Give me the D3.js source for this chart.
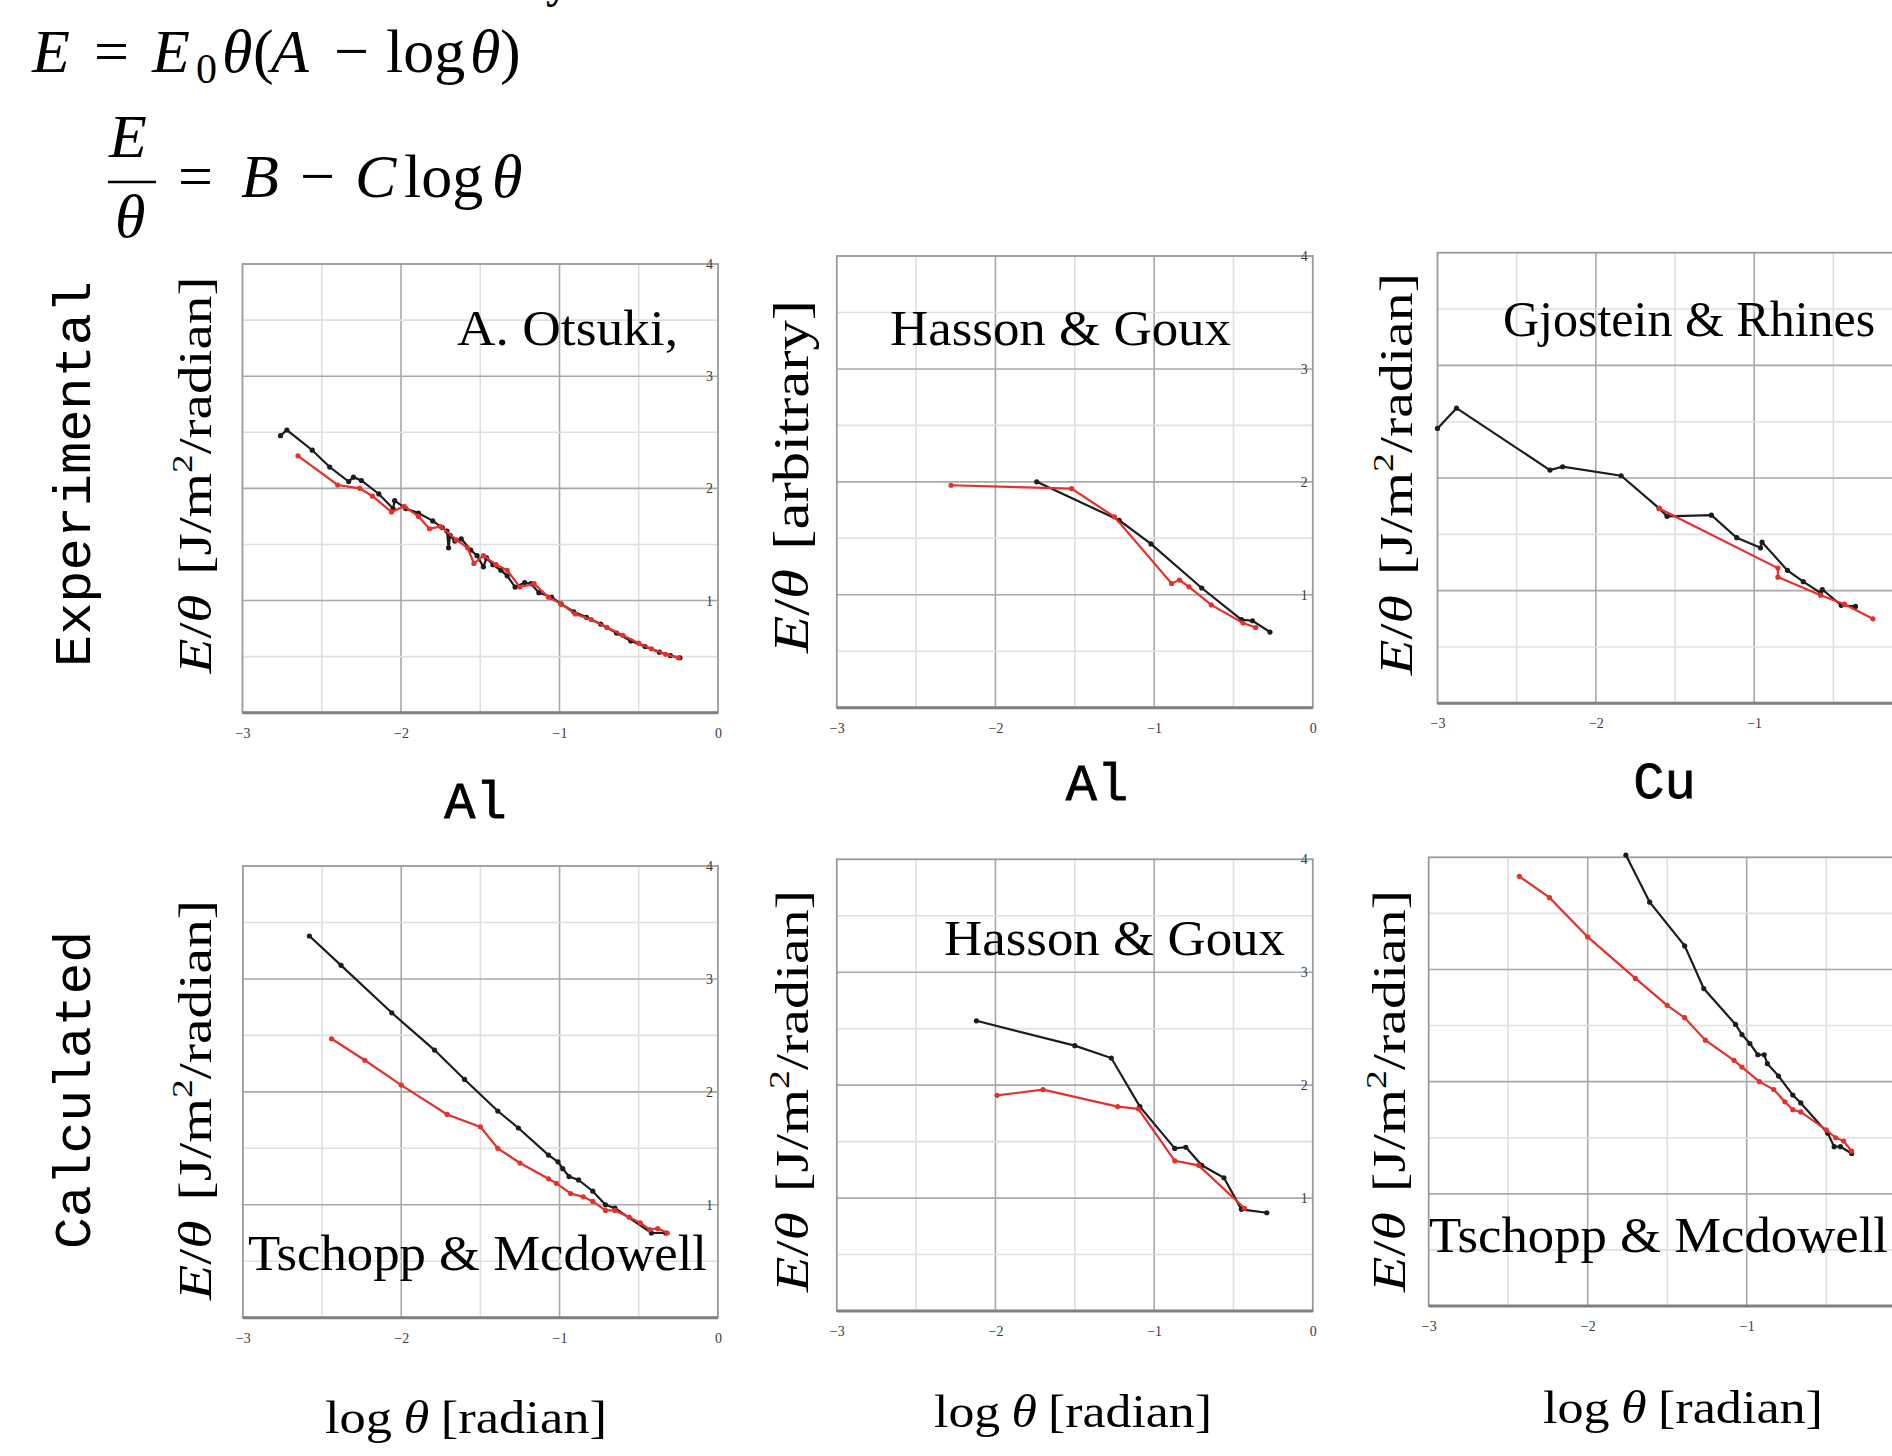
<!DOCTYPE html>
<html>
<head>
<meta charset="utf-8">
<script src="https://cdn.jsdelivr.net/npm/d3@7"></script>
<style>
  html, body { margin: 0; padding: 0; background: #fff; }
  svg { display: block; }
</style>
</head>
<body>
<div id="chart"></div>
<script>
// values: [log theta, E/theta]

const xTicks = [-3, -2, -1, 0];
const yTicks = [1, 2, 3, 4];
const xGrid = [-2.5, -2, -1.5, -1, -0.5];
const yGrid = [0.5, 1, 1.5, 2, 2.5, 3, 3.5];

// Experimental, Al (A. Otsuki)
const otsukiBlack = [[-2.76, 2.47], [-2.72, 2.52], [-2.56, 2.34], [-2.45, 2.19], [-2.33, 2.06], [-2.30, 2.10],
  [-2.25, 2.07], [-2.14, 1.95], [-2.05, 1.82], [-2.04, 1.89], [-1.97, 1.82], [-1.89, 1.78], [-1.80, 1.71],
  [-1.74, 1.65], [-1.71, 1.62], [-1.70, 1.47], [-1.69, 1.58], [-1.66, 1.53], [-1.62, 1.55], [-1.56, 1.45],
  [-1.52, 1.40], [-1.48, 1.30], [-1.46, 1.38], [-1.42, 1.32], [-1.37, 1.27], [-1.33, 1.22], [-1.28, 1.12],
  [-1.22, 1.16], [-1.18, 1.15], [-1.13, 1.07], [-1.05, 1.03], [-0.99, 0.97], [-0.91, 0.90], [-0.83, 0.85],
  [-0.74, 0.79], [-0.64, 0.71], [-0.55, 0.64], [-0.46, 0.59], [-0.37, 0.54], [-0.30, 0.51], [-0.24, 0.49]];
const otsukiRed = [[-2.65, 2.29], [-2.40, 2.03], [-2.26, 2.00], [-2.18, 1.93], [-2.06, 1.79], [-1.98, 1.84],
  [-1.89, 1.75], [-1.82, 1.64], [-1.75, 1.66], [-1.65, 1.54], [-1.58, 1.47], [-1.54, 1.33], [-1.48, 1.40],
  [-1.40, 1.32], [-1.33, 1.27], [-1.25, 1.12], [-1.16, 1.15], [-1.07, 1.03], [-0.99, 0.97], [-0.90, 0.88],
  [-0.80, 0.83], [-0.70, 0.76], [-0.60, 0.69], [-0.50, 0.62], [-0.42, 0.57], [-0.33, 0.52], [-0.25, 0.49]];

// Experimental, Al (Hasson & Goux)
const hassonExpBlack = [[-1.74, 2.00], [-1.22, 1.66], [-1.02, 1.45], [-0.70, 1.06], [-0.45, 0.78], [-0.38, 0.77], [-0.27, 0.67]];
const hassonExpRed = [[-2.28, 1.97], [-1.52, 1.94], [-1.25, 1.69], [-0.89, 1.10], [-0.84, 1.13], [-0.78, 1.07],
  [-0.64, 0.91], [-0.44, 0.75], [-0.36, 0.71]];

// Experimental, Cu (Gjostein & Rhines)
const gjosteinBlack = [[-3.00, 2.44], [-2.88, 2.62], [-2.29, 2.07], [-2.21, 2.10], [-1.84, 2.02], [-1.60, 1.73],
  [-1.55, 1.66], [-1.27, 1.67], [-1.11, 1.47], [-0.96, 1.38], [-0.95, 1.43], [-0.79, 1.18], [-0.69, 1.08],
  [-0.58, 0.98], [-0.57, 1.01], [-0.45, 0.87], [-0.36, 0.86]];
const gjosteinRed = [[-1.60, 1.73], [-0.85, 1.20], [-0.85, 1.12], [-0.58, 0.96], [-0.43, 0.88], [-0.25, 0.75]];

// Calculated, Al (Tschopp & Mcdowell)
const tschoppAlBlack = [[-2.58, 3.38], [-2.38, 3.12], [-2.06, 2.70], [-1.79, 2.37], [-1.60, 2.11], [-1.39, 1.83],
  [-1.26, 1.68], [-1.07, 1.44], [-1.01, 1.38], [-0.98, 1.32], [-0.94, 1.25], [-0.88, 1.22], [-0.79, 1.12],
  [-0.71, 1.00], [-0.65, 0.97], [-0.42, 0.75], [-0.33, 0.75]];
const tschoppAlRed = [[-2.44, 2.47], [-2.23, 2.28], [-2.00, 2.06], [-1.71, 1.80], [-1.50, 1.69], [-1.39, 1.50],
  [-1.25, 1.37], [-1.07, 1.23], [-1.02, 1.19], [-0.93, 1.10], [-0.85, 1.07], [-0.79, 1.03], [-0.71, 0.95],
  [-0.65, 0.95], [-0.56, 0.89], [-0.49, 0.84], [-0.43, 0.78], [-0.38, 0.79], [-0.32, 0.75]];

// Calculated, Al (Hasson & Goux)
const hassonCalcBlack = [[-2.12, 2.57], [-1.50, 2.35], [-1.27, 2.24], [-1.09, 1.81], [-0.87, 1.44], [-0.80, 1.45],
  [-0.70, 1.29], [-0.56, 1.18], [-0.45, 0.90], [-0.29, 0.87]];
const hassonCalcRed = [[-1.99, 1.91], [-1.70, 1.96], [-1.23, 1.81], [-1.10, 1.79], [-0.87, 1.33], [-0.72, 1.29], [-0.43, 0.91]];

// Calculated, Cu (Tschopp & Mcdowell)
const tschoppCuBlack = [[-1.76, 4.02], [-1.61, 3.60], [-1.39, 3.21], [-1.27, 2.83], [-1.07, 2.51], [-1.03, 2.42],
  [-0.98, 2.34], [-0.93, 2.24], [-0.89, 2.24], [-0.87, 2.16], [-0.80, 2.05], [-0.71, 1.88], [-0.66, 1.81],
  [-0.49, 1.54], [-0.45, 1.42], [-0.41, 1.42], [-0.34, 1.36]];
const tschoppCuRed = [[-2.43, 3.83], [-2.24, 3.64], [-2.00, 3.29], [-1.70, 2.92], [-1.50, 2.68], [-1.39, 2.57],
  [-1.26, 2.37], [-1.08, 2.19], [-1.03, 2.13], [-0.92, 2.00], [-0.83, 1.93], [-0.76, 1.82], [-0.71, 1.75],
  [-0.66, 1.73], [-0.50, 1.57], [-0.44, 1.50], [-0.39, 1.47], [-0.34, 1.38]];

// -----------------------
// layout of the six panels
// -----------------------
const panels = [
  {left: 242.5, top: 264, width: 475.5, height: 448.7, black: otsukiBlack, red: otsukiRed,
   title: "A. Otsuki,", titleX: 457, titleY: 345, titleLen: 221,
   yUnit: "J", yLabX: 211, yLabY: 475, yLabLen: 397, yLabSize: 46},
  {left: 836.8, top: 256, width: 476, height: 451.7, black: hassonExpBlack, red: hassonExpRed,
   title: "Hasson & Goux", titleX: 890, titleY: 345, titleLen: 341,
   yUnit: "arb", yLabX: 808, yLabY: 476.5, yLabLen: 353, yLabSize: 50},
  {left: 1437.5, top: 252.7, width: 475, height: 450.6, black: gjosteinBlack, red: gjosteinRed,
   title: "Gjostein & Rhines", titleX: 1503, titleY: 336, titleLen: null,
   yUnit: "J", yLabX: 1412, yLabY: 474, yLabLen: 402, yLabSize: 46},
  {left: 242.9, top: 866, width: 475, height: 451.7, black: tschoppAlBlack, red: tschoppAlRed,
   title: "Tschopp & Mcdowell", titleX: 248, titleY: 1270, titleLen: 459,
   yUnit: "J", yLabX: 211, yLabY: 1100, yLabLen: 400, yLabSize: 46},
  {left: 836.8, top: 859.3, width: 476, height: 451.7, black: hassonCalcBlack, red: hassonCalcRed,
   title: "Hasson & Goux", titleX: 944, titleY: 955, titleLen: 341,
   yUnit: "J", yLabX: 808, yLabY: 1091, yLabLen: 402, yLabSize: 46},
  {left: 1428.7, top: 857.3, width: 477, height: 448.7, black: tschoppCuBlack, red: tschoppCuRed,
   title: "Tschopp & Mcdowell", titleX: 1429, titleY: 1252, titleLen: 459,
   yUnit: "J", yLabX: 1405, yLabY: 1091, yLabLen: 402, yLabSize: 46},
];

const serif = "'Liberation Serif', 'DejaVu Serif', serif";
const mono = "'Liberation Mono', 'DejaVu Sans Mono', monospace";

const svg = d3.select("#chart").append("svg")
  .attr("width", 1892).attr("height", 1456)
  .attr("viewBox", [0, 0, 1892, 1456]);
svg.append("rect").attr("width", 1892).attr("height", 1456).attr("fill", "#fff");

panels.forEach(p => make_panel(svg, p));
draw_formulas(svg);
draw_side_labels(svg);

function make_panel(parent, p) {
  const x = d3.scaleLinear([-3, 0], [p.left, p.left + p.width]);
  const y = d3.scaleLinear([0, 4], [p.top + p.height, p.top]);
  const g = parent.append("g").attr("class", "panel");

  // grid lines, darker on whole numbers
  g.append("g").selectAll("line").data(xGrid).join("line")
    .attr("x1", d => x(d)).attr("x2", d => x(d))
    .attr("y1", y(0)).attr("y2", y(4))
    .attr("stroke", d => Number.isInteger(d) ? "#a8a8a8" : "#e0e0e0")
    .attr("stroke-width", 1.6);
  g.append("g").selectAll("line").data(yGrid).join("line")
    .attr("x1", x(-3)).attr("x2", x(0))
    .attr("y1", d => y(d)).attr("y2", d => y(d))
    .attr("stroke", d => Number.isInteger(d) ? "#a8a8a8" : "#e0e0e0")
    .attr("stroke-width", 1.6);

  // frame
  g.append("rect")
    .attr("x", x(-3)).attr("y", y(4))
    .attr("width", x(0) - x(-3)).attr("height", y(0) - y(4))
    .attr("fill", "none").attr("stroke", "#9a9a9a").attr("stroke-width", 1.8);
  g.append("line")
    .attr("x1", x(-3)).attr("x2", x(0)).attr("y1", y(0)).attr("y2", y(0))
    .attr("stroke", "#808080").attr("stroke-width", 3);

  // axes labels
  g.append("g")
    .attr("transform", `translate(0,${y(0)})`)
    .call(d3.axisBottom(x).tickValues(xTicks).tickSize(0).tickPadding(15).tickFormat(d3.format("d")))
    .call(a => a.select(".domain").remove())
    .attr("font-family", serif).attr("font-size", 14)
    .selectAll("text").attr("fill", "#3a3a3a");
  g.append("g")
    .attr("transform", `translate(${x(0)},0)`)
    .call(d3.axisLeft(y).tickValues(yTicks).tickSize(0).tickPadding(5).tickFormat(d3.format("d")))
    .call(a => a.select(".domain").remove())
    .attr("font-family", serif).attr("font-size", 14)
    .selectAll("text").attr("fill", "#3a3a3a");

  // series
  const line = d3.line().x(d => x(d[0])).y(d => y(d[1])).curve(d3.curveLinear);
  [["#1c1c1c", p.black], ["#e5302b", p.red]].forEach(([col, data]) => {
    g.append("path").datum(data)
      .attr("d", line).attr("fill", "none")
      .attr("stroke", col).attr("stroke-width", 2.2);
    g.append("g").selectAll("circle").data(data).join("circle")
      .attr("cx", d => x(d[0])).attr("cy", d => y(d[1]))
      .attr("r", 2.6).attr("fill", col);
  });

  // source name
  const t = g.append("text")
    .attr("x", p.titleX).attr("y", p.titleY)
    .attr("font-family", serif).attr("font-size", 50).attr("fill", "#000")
    .text(p.title);
  if (p.titleLen) t.attr("textLength", p.titleLen).attr("lengthAdjust", "spacingAndGlyphs");

  // y label, rotated
  const yl = g.append("text")
    .attr("transform", `translate(${p.yLabX},${p.yLabY}) rotate(-90)`)
    .attr("text-anchor", "middle")
    .attr("font-family", serif).attr("font-size", p.yLabSize)
    .attr("textLength", p.yLabLen).attr("lengthAdjust", "spacingAndGlyphs");
  yl.append("tspan").attr("font-style", "italic").text("E");
  yl.append("tspan").text("/");
  yl.append("tspan").attr("font-style", "italic").text("θ");
  if (p.yUnit === "arb") {
    yl.append("tspan").attr("dx", 16).text("[arbitrary]");
  } else {
    yl.append("tspan").attr("dx", 16).text("[J/m");
    yl.append("tspan").attr("font-size", 30).attr("dy", -19).text("2");
    yl.append("tspan").attr("dy", 19).text("/radian]");
  }
}

function draw_formulas(parent) {
  const f = parent.append("g").attr("font-family", serif).attr("font-size", 62).attr("fill", "#000");
  // E = E0 theta (A - log theta)
  const row1 = [
    ["E", 32, true], ["=", 94, false], ["E", 152, true], ["θ", 222, true], ["(", 253, false],
    ["A", 271, true], ["−", 334, false], ["log", 386, false], ["θ", 470, true], [")", 500, false]];
  row1.forEach(([s, px, it]) => f.append("text").attr("x", px).attr("y", 72)
    .attr("font-family", serif)
    .attr("font-style", it ? "italic" : "normal").text(s));
  f.append("text").attr("x", 196).attr("y", 83).attr("font-size", 42).attr("font-family", serif).text("0");

  // E / theta = B - C log theta
  f.append("text").attr("x", 109).attr("y", 157).attr("font-style", "italic").attr("font-family", serif).text("E");
  f.append("line").attr("x1", 108).attr("x2", 156).attr("y1", 182).attr("y2", 182)
    .attr("stroke", "#000").attr("stroke-width", 2.5);
  f.append("text").attr("x", 115).attr("y", 237).attr("font-style", "italic").attr("font-family", serif).text("θ");
  const row2 = [
    ["=", 178, false], ["B", 241, true], ["−", 300, false], ["C", 355, true],
    ["log", 404, false], ["θ", 492, true]];
  row2.forEach(([s, px, it]) => f.append("text").attr("x", px).attr("y", 197)
    .attr("font-family", serif)
    .attr("font-style", it ? "italic" : "normal").text(s));

  // stray descender cut at the top edge
  f.append("text").attr("x", 546).attr("y", -3).attr("font-size", 46).attr("font-weight", "bold").text("y");
}

function draw_side_labels(parent) {
  const rows = [["Experimental", 474, 386], ["Calculated", 1090, 318]];
  rows.forEach(([s, cy, len]) => parent.append("text")
    .attr("transform", `translate(90,${cy}) rotate(-90)`)
    .attr("text-anchor", "middle")
    .attr("font-family", mono).attr("font-size", 52)
    .attr("textLength", len).attr("lengthAdjust", "spacingAndGlyphs")
    .text(s));

  const cols = [["Al", 475.5, 818], ["Al", 1097, 800], ["Cu", 1664.5, 798]];
  cols.forEach(([s, cx, by]) => parent.append("text")
    .attr("x", cx).attr("y", by).attr("text-anchor", "middle")
    .attr("font-family", mono).attr("font-size", 52)
    .attr("stroke", "#000").attr("stroke-width", 0.8)
    .text(s));

  const xl = [[466, 1433, 282], [1073, 1427, 278], [1683, 1423, 280]];
  xl.forEach(([cx, by, len]) => {
    const t = parent.append("text")
      .attr("x", cx).attr("y", by).attr("text-anchor", "middle")
      .attr("font-family", serif).attr("font-size", 46)
      .attr("textLength", len).attr("lengthAdjust", "spacingAndGlyphs");
    t.append("tspan").text("log");
    t.append("tspan").attr("dx", 10).attr("font-style", "italic").text("θ");
    t.append("tspan").attr("dx", 10).text("[radian]");
  });
}
</script>
</body>
</html>
